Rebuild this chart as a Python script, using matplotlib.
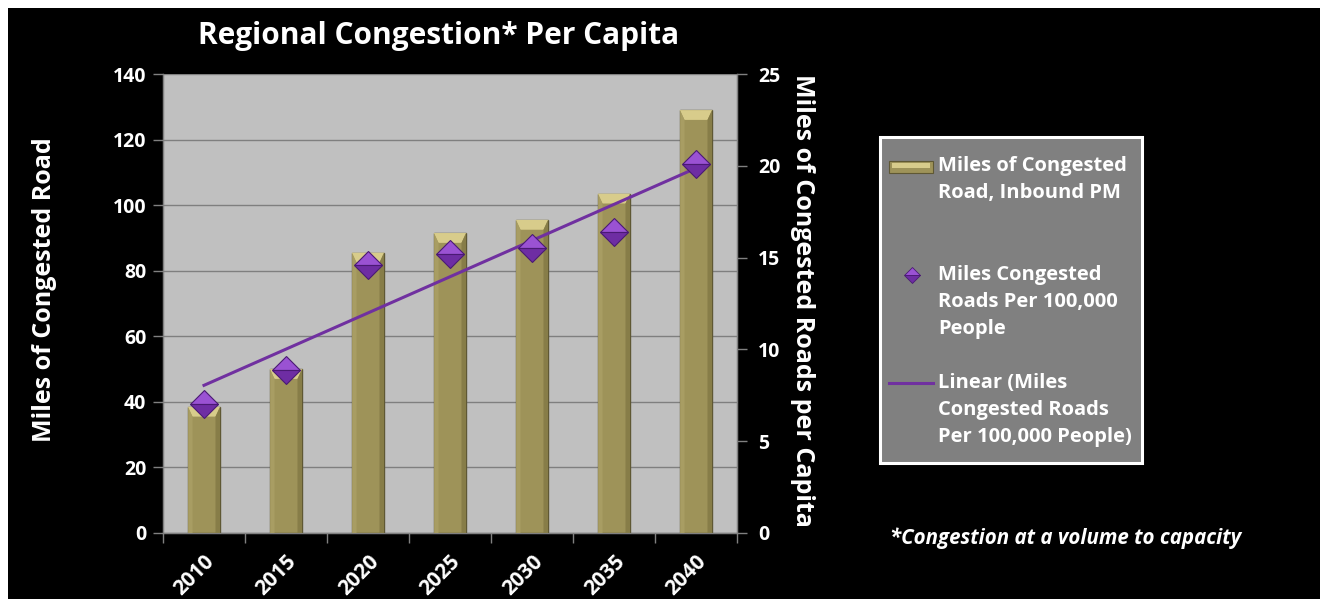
import numpy as np
import matplotlib
matplotlib.use("Agg")
import matplotlib.pyplot as plt
import matplotlib.transforms as mtransforms
from matplotlib.patches import Rectangle, Polygon
from matplotlib.lines import Line2D

# Data
years = ["2010", "2015", "2020", "2025", "2030", "2035", "2040"]
congested_miles = [38.5, 50, 85.5, 91.5, 95.5, 103.5, 129]
miles_per_100k = [7.0, 8.9, 14.6, 15.2, 15.5, 16.4, 20.1]

left_ticks = [0, 20, 40, 60, 80, 100, 120, 140]
right_ticks = [0, 5, 10, 15, 20, 25]

FONT = ["Open Sans", "DejaVu Sans"]
plt.rcParams["font.family"] = FONT
plt.rcParams["font.weight"] = "bold"

W, H = 1320, 599
fig = plt.figure(figsize=(W / 100, H / 100), dpi=100, facecolor="white")

# black slide background with a thin white margin on top/left
fig.patches.append(Rectangle((8 / W, 0), 1 - 8 / W, (H - 8) / H,
                             transform=fig.transFigure, facecolor="black",
                             edgecolor="none", zorder=-10))

ax = fig.add_axes([163 / W, 1 - 533 / H, (737 - 163) / W, (533 - 74) / H])
ax.set_facecolor("#C0C0C0")

x = np.arange(len(years))
bar_w = 0.40
BAR_FACE = "#9E9359"
BAR_EDGE = "#5F5834"
BAR_CAP = "#D8CC8B"
BAR_SIDE = "#877D48"

ax.bar(x, congested_miles, width=bar_w, color=BAR_FACE, edgecolor=BAR_EDGE,
       linewidth=1.0, zorder=3)
# bevelled top cap and shaded sides on each bar
cap_h = 3.0
inset = 0.06
for xi, h in zip(x, congested_miles):
    ax.add_patch(Polygon([(xi - bar_w / 2, h), (xi + bar_w / 2, h),
                          (xi + bar_w / 2 - inset, h - cap_h),
                          (xi - bar_w / 2 + inset, h - cap_h)],
                         closed=True, facecolor=BAR_CAP, edgecolor="none", zorder=4))
    ax.add_patch(Polygon([(xi - bar_w / 2 + 0.006, 0), (xi - bar_w / 2 + 0.006, h),
                          (xi - bar_w / 2 + inset, h - cap_h),
                          (xi - bar_w / 2 + inset, 0)],
                         closed=True, facecolor="#A89D63", edgecolor="none", zorder=4))
    ax.add_patch(Polygon([(xi + bar_w / 2 - 0.006, 0), (xi + bar_w / 2 - 0.006, h),
                          (xi + bar_w / 2 - inset, h - cap_h),
                          (xi + bar_w / 2 - inset, 0)],
                         closed=True, facecolor=BAR_SIDE, edgecolor="none", zorder=4))

ax.set_xlim(-0.5, len(years) - 0.5)
ax.set_ylim(0, 140)
ax.set_yticks(left_ticks)
ax.yaxis.grid(True, color="#7F7F7F", linewidth=1.0, zorder=1)
ax.set_axisbelow(True)

ax.set_xticks(x)
ax.set_xticklabels(years, rotation=45, ha="right", va="top",
                   rotation_mode="anchor", fontsize=15, fontweight="bold", color="white")
shift = mtransforms.ScaledTranslation(-14 / 100, 0, fig.dpi_scale_trans)
for lab in ax.get_xticklabels():
    lab.set_transform(lab.get_transform() + shift)
ax.set_xticks(np.arange(-0.5, len(years), 1.0), minor=True)
ax.tick_params(axis="x", which="major", length=0, pad=13)
ax.tick_params(axis="x", which="minor", length=7, color="#808080", width=1)
ax.tick_params(axis="y", length=7, color="#808080", width=1, labelsize=14,
               labelcolor="white", pad=5)
for lab in ax.get_yticklabels():
    lab.set_fontweight("bold")

ax.spines["top"].set_visible(False)
for side in ["left", "bottom", "right"]:
    ax.spines[side].set_color("#808080")
    ax.spines[side].set_linewidth(1.0)

# secondary axis: miles per 100,000 people
ax2 = ax.twinx()
ax2.set_ylim(0, 25)
ax2.set_yticks(right_ticks)
ax2.tick_params(axis="y", length=7, color="#808080", width=1, labelsize=14,
                labelcolor="white", pad=8)
for lab in ax2.get_yticklabels():
    lab.set_fontweight("bold")
ax2.spines["top"].set_visible(False)
for side in ["left", "bottom", "right"]:
    ax2.spines[side].set_color("#808080")

# linear trend of the per-capita series
coef = np.polyfit(x, miles_per_100k, 1)
trend = np.polyval(coef, x)
ax2.plot(x, trend, color="#7030A0", linewidth=2.2, zorder=5)

ax2.plot(x, miles_per_100k, linestyle="none", marker="D", markersize=14,
         fillstyle="top", markerfacecolor="#9A52D3", markerfacecoloralt="#6E2DA3",
         markeredgecolor="#4A1A74", markeredgewidth=0.8, zorder=6)

# axis titles
fig.text(45 / W, 1 - 290 / H, "Miles of Congested Road", rotation=90,
         ha="center", va="center", fontsize=18, fontweight="bold", color="white")
fig.text(803 / W, 1 - 300 / H, "Miles of Congested Roads per Capita", rotation=-90,
         ha="center", va="center", fontsize=18, fontweight="bold", color="white")

fig.text(439 / W, 1 - 36 / H, "Regional Congestion* Per Capita",
         ha="center", va="center", fontsize=21.5, fontweight="bold", color="white")

fig.text(890 / W, 1 - 538 / H, "*Congestion at a volume to capacity",
         ha="left", va="center", fontsize=14.8, fontweight="bold", style="italic",
         color="white")

# legend box
lx0, ly0, lx1, ly1 = 880, 137, 1142, 463
fig.patches.append(Rectangle((lx0 / W, 1 - ly1 / H), (lx1 - lx0) / W, (ly1 - ly0) / H,
                             transform=fig.transFigure, facecolor="#808080",
                             edgecolor="white", linewidth=2.2, zorder=2))
fig.patches.append(Rectangle((889 / W, 1 - 173 / H), 44 / W, 12 / H,
                             transform=fig.transFigure, facecolor=BAR_FACE,
                             edgecolor=BAR_EDGE, linewidth=0.8, zorder=3))
fig.patches.append(Rectangle((892 / W, 1 - 168 / H), 38 / W, 5 / H,
                             transform=fig.transFigure, facecolor=BAR_CAP,
                             edgecolor="none", zorder=4))
fig.lines.append(Line2D([912 / W], [1 - 275 / H], transform=fig.transFigure,
                        marker="D", markersize=8.5, fillstyle="top",
                        markerfacecolor="#9A52D3", markerfacecoloralt="#6E2DA3",
                        markeredgecolor="#4A1A74", markeredgewidth=0.6, zorder=4))
fig.lines.append(Line2D([889 / W, 933 / W], [1 - 383 / H, 1 - 383 / H],
                        transform=fig.transFigure, color="#7030A0", linewidth=2.2,
                        zorder=4))

legend_labels = [
    (166, ["Miles of Congested", "Road, Inbound PM"]),
    (275, ["Miles Congested", "Roads Per 100,000", "People"]),
    (383, ["Linear (Miles", "Congested Roads", "Per 100,000 People)"]),
]
for y0, lines in legend_labels:
    for i, t in enumerate(lines):
        fig.text(938 / W, 1 - (y0 + i * 27.1) / H, t, ha="left", va="center",
                 fontsize=14.5, fontweight="bold", color="white", zorder=5)

fig.savefig("out.png", dpi=100, facecolor=fig.get_facecolor())
